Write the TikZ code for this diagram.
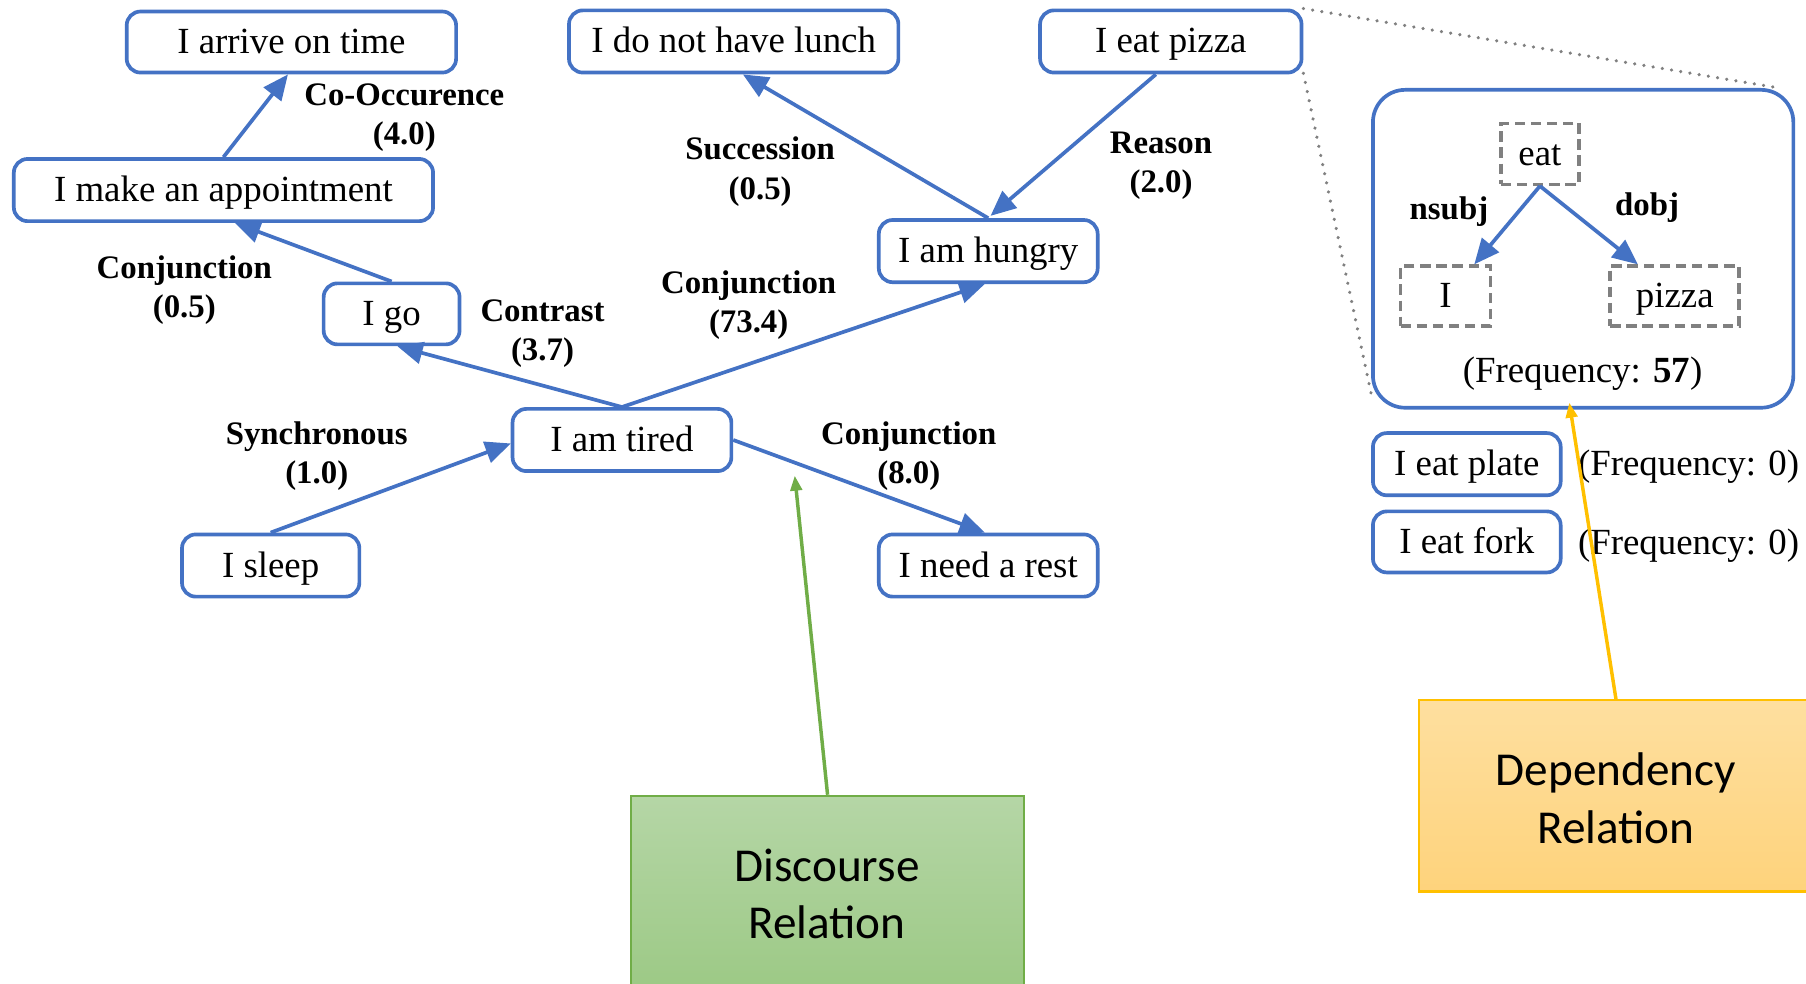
\documentclass[tikz,border=0pt]{standalone}
\usepackage{fontspec}
\setmainfont{Liberation Serif}
\newfontfamily\calib{Carlito}
\usetikzlibrary{arrows.meta}
\definecolor{dblue}{HTML}{4472C4}
\definecolor{dgray}{HTML}{808080}
\definecolor{lgreen}{HTML}{70AD47}
\definecolor{gtop}{HTML}{B5D6A6}
\definecolor{gbot}{HTML}{9CC985}
\definecolor{lorange}{HTML}{FFC000}
\definecolor{otop}{HTML}{FEDF9F}
\definecolor{obot}{HTML}{FED37C}
\tikzset{
  sent/.style={draw=dblue, line width=3.2pt, rounded corners=12pt, inner sep=0pt, text height=24pt, text depth=4pt, font=\fontsize{32}{36}\selectfont},
  wordbox/.style={draw=dgray, line width=3pt, dash pattern=on 9pt off 5pt, inner sep=0pt, text height=24pt, text depth=4pt, font=\fontsize{32}{36}\selectfont},
  rel/.style={font=\bfseries\fontsize{28.5}{34}\selectfont, align=center, inner sep=0pt},
  plain/.style={font=\fontsize{32}{36}\selectfont, inner sep=0pt, text height=24pt, text depth=4pt},
  edge/.style={draw=dblue, line width=3.2pt, -{Triangle[length=22pt,width=19pt]}},
  callout/.style={line width=2pt, inner sep=0pt, align=center, font=\calib\fontsize{41}{50}\selectfont},
  zoomline/.style={draw=dgray, line width=3pt, dash pattern=on 0.1pt off 8pt, line cap=round},
}
\begin{document}
\begin{tikzpicture}[x=1pt,y=-1pt]
\clip (0,0) rectangle (1568,854);
\fill[white] (0,0) rectangle (1568,854);

% discourse graph
\node[sent, minimum width=286pt, minimum height=53pt] (arrive) at (253,36.5) {I arrive on time};
\node[sent, minimum width=286pt, minimum height=54pt] (lunch) at (637,36) {I do not have lunch};
\node[sent, minimum width=227pt, minimum height=54pt] (pizzaS) at (1016.5,36) {I eat pizza};
\node[sent, minimum width=364pt, minimum height=54pt] (appoint) at (194,165) {I make an appointment};
\node[sent, minimum width=118pt, minimum height=53pt] (igo) at (340,272.5) {I go};
\node[sent, minimum width=190pt, minimum height=54pt] (hungry) at (858,218) {I am hungry};
\node[sent, minimum width=190pt, minimum height=54pt] (tired) at (540,382) {I am tired};
\node[sent, minimum width=154pt, minimum height=54pt] (sleep) at (235,491) {I sleep};
\node[sent, minimum width=190pt, minimum height=54pt] (rest) at (858,491) {I need a rest};

\draw[edge] (appoint.north) -- ([xshift=-3pt]arrive.south);
\draw[edge] (igo.north) -- ([xshift=10pt]appoint.south);
\draw[edge] (tired.north) -- ([xshift=5pt]igo.south);
\draw[edge] (tired.north) -- ([xshift=-3pt]hungry.south);
\draw[edge] (sleep.north) -- ([yshift=-3pt]tired.west);
\draw[edge] (tired.east) -- ([xshift=-3pt]rest.north);
\draw[edge] (hungry.north) -- ([xshift=8pt]lunch.south);
\draw[edge] ([xshift=-13pt]pizzaS.south) -- ([xshift=2pt,yshift=2pt]hungry.north);

\node[rel] (lcooc) at (351,102) {Co-Occurence\\(4.0)};
\node[rel] (lconja) at (160,252) {Conjunction\\(0.5)};
\node[rel] (lcontr) at (471,290) {Contrast\\(3.7)};
\node[rel] (lconjb) at (650,265) {Conjunction\\(73.4)};
\node[rel] (lsync) at (275,396) {Synchronous\\(1.0)};
\node[rel] (lconjc) at (789,396) {Conjunction\\(8.0)};
\node[rel] (lsucc) at (660,149) {Succession\\(0.5)};
\node[rel] (lreas) at (1008,144) {Reason\\(2.0)};

% dependency panel
\node[draw=dblue, line width=3.2pt, rounded corners=28pt, minimum width=365pt, minimum height=276pt, inner sep=0pt] (big) at (1374.5,216) {};
\node[wordbox, minimum width=68pt, minimum height=53pt] (eat) at (1337,133.5) {eat};
\node[wordbox, minimum width=78pt, minimum height=52pt] (wI) at (1255,257) {I};
\node[wordbox, minimum width=112pt, minimum height=52pt] (wpizza) at (1454,257) {pizza};
\draw[edge] (eat.south) -- ([xshift=25pt]wI.north);
\draw[edge] (eat.south) -- ([xshift=-32pt]wpizza.north);
\node[rel] (lnsubj) at (1258,184) {nsubj};
\node[rel] (ldobj) at (1430,180) {dobj};
\node[plain] (f57) at (1374,322) {(Frequency: \textbf{57})};

\draw[zoomline] (pizzaS.north east) -- ([xshift=-14pt]big.north east);
\draw[zoomline] ([yshift=1pt]pizzaS.south east) -- ([yshift=14pt]big.south west);

\node[sent, minimum width=163pt, minimum height=54pt] (plate) at (1273.5,403) {I eat plate};
\node[sent, minimum width=163pt, minimum height=53pt] (fork) at (1273.5,470.5) {I eat fork};
\node[plain] (f0a) at (1466,403) {(Frequency: 0)};
\node[plain] (f0b) at (1466,471) {(Frequency: 0)};

% callouts
\node[callout, draw=lgreen, top color=gtop, bottom color=gbot, minimum width=341pt, minimum height=170pt] (disc) at (718.5,776) {};
\node[callout] (disct) at (718,776) {Discourse\\Relation};
\coordinate (gtip) at (690,413);
\draw[draw=lgreen, line width=3pt, -{Triangle[length=13pt,width=10pt]}] (disc.north) -- (gtip);

\node[callout, draw=lorange, top color=otop, bottom color=obot, minimum width=342pt, minimum height=166pt] (dep) at (1403,691) {};
\node[callout] (dept) at (1403,693) {Dependency\\Relation};
\draw[draw=lorange, line width=3pt, -{Triangle[length=13pt,width=10pt]}] (dep.north) -- ([xshift=-12pt,yshift=6pt]big.south);
\end{tikzpicture}
\end{document}
